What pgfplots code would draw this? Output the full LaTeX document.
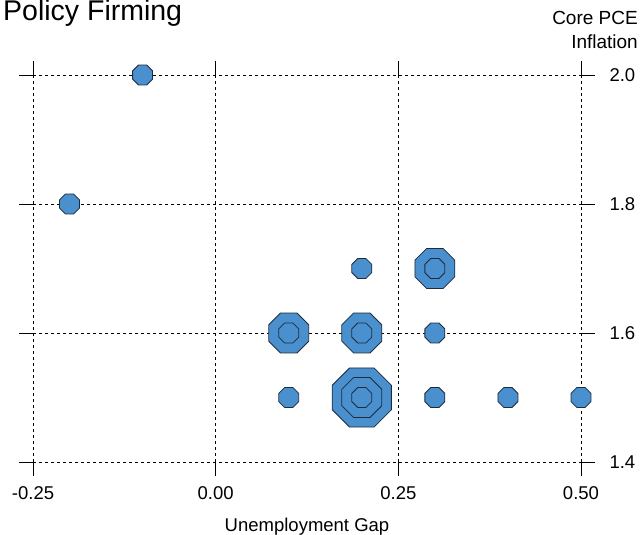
\documentclass[border=0pt]{standalone}
\usepackage{pgfplots}
\pgfplotsset{compat=1.18}
\usepackage{fontspec}
\setmainfont{Liberation Sans}
\definecolor{dotblue}{HTML}{4A90CF}
\definecolor{dotedge}{HTML}{1E2B3A}
\pgfdeclareplotmark{oct}{%
  \pgfpathmoveto{\pgfqpointpolar{22.5}{\pgfplotmarksize}}%
  \pgfpathlineto{\pgfqpointpolar{67.5}{\pgfplotmarksize}}%
  \pgfpathlineto{\pgfqpointpolar{112.5}{\pgfplotmarksize}}%
  \pgfpathlineto{\pgfqpointpolar{157.5}{\pgfplotmarksize}}%
  \pgfpathlineto{\pgfqpointpolar{202.5}{\pgfplotmarksize}}%
  \pgfpathlineto{\pgfqpointpolar{247.5}{\pgfplotmarksize}}%
  \pgfpathlineto{\pgfqpointpolar{292.5}{\pgfplotmarksize}}%
  \pgfpathlineto{\pgfqpointpolar{337.5}{\pgfplotmarksize}}%
  \pgfpathclose
  \pgfusepathqfillstroke}
\begin{document}
\begin{tikzpicture}
\path[use as bounding box] (0,0) rectangle (641bp,535bp);
\begin{axis}[
  at={(33bp,73bp)}, anchor=south west,
  scale only axis, width=548bp, height=387bp,
  xmin=-0.25, xmax=0.5, ymin=1.4, ymax=2.0,
  clip=false,
  axis line style={draw=none},
  xtick={-0.25,0,0.25,0.5},
  ytick={1.4,1.6,1.8,2.0},
  xticklabel pos=bottom, yticklabel pos=right,
  tick pos=both,
  tick align=outside,
  major tick length=14bp,
  every tick/.style={black, line width=0.9bp},
  grid=major,
  major grid style={black, line width=0.8bp, dash pattern=on 3bp off 3bp},
  /pgf/number format/assume math mode=true,
  x tick label style={/pgf/number format/.cd, fixed, fixed zerofill, precision=2, /tikz/.cd, font=\fontsize{18.5bp}{22bp}\selectfont, yshift=-7bp},
  y tick label style={/pgf/number format/.cd, fixed, fixed zerofill, precision=1, /tikz/.cd, font=\fontsize{18.5bp}{22bp}\selectfont, xshift=11bp},
  xlabel={Unemployment Gap},
  xlabel style={font=\fontsize{18.5bp}{22bp}\selectfont, yshift=-12bp},
]
\addplot[only marks, mark=oct, mark size=32bp, mark options={fill=dotblue, draw=dotedge, line width=0.8bp}]
  coordinates {(0.2,1.5)};
\addplot[only marks, mark=oct, mark size=21.6bp, mark options={fill=dotblue, draw=dotedge, line width=0.8bp}]
  coordinates {(0.3,1.7) (0.1,1.6) (0.2,1.6) (0.2,1.5)};
\addplot[only marks, mark=oct, mark size=10.8bp, mark options={fill=dotblue, draw=dotedge, line width=0.8bp}]
  coordinates {(-0.1,2.0) (-0.2,1.8) (0.2,1.7) (0.3,1.7) (0.1,1.6) (0.2,1.6) (0.3,1.6)
               (0.1,1.5) (0.2,1.5) (0.3,1.5) (0.4,1.5) (0.5,1.5)};
\end{axis}
\node[anchor=base west, inner sep=0pt, font=\fontsize{28.5bp}{32bp}\selectfont] at (3bp,514bp) {Policy Firming};
\node[anchor=north east, inner sep=0pt, align=right, font=\fontsize{19bp}{24.5bp}\selectfont] at (638bp,524bp) {Core PCE\\Inflation};
\end{tikzpicture}
\end{document}
